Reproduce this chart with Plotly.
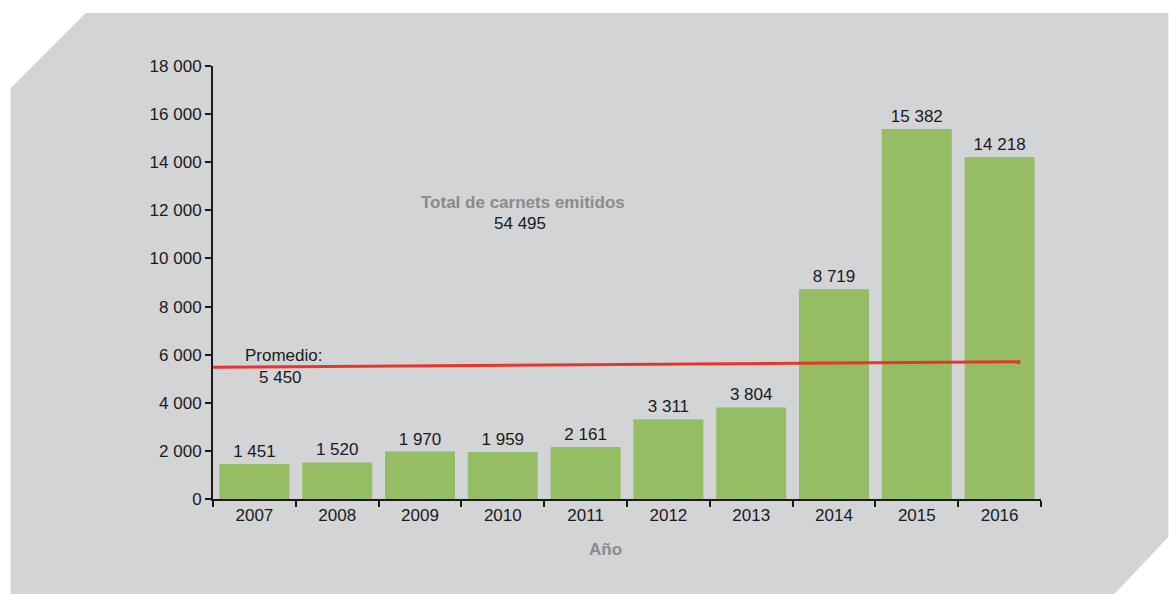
import plotly.graph_objects as go

years = ["2007", "2008", "2009", "2010", "2011", "2012", "2013", "2014", "2015", "2016"]
carnets = [1451, 1520, 1970, 1959, 2161, 3311, 3804, 8719, 15382, 14218]
bar_labels = ["1 451", "1 520", "1 970", "1 959", "2 161", "3 311", "3 804", "8 719", "15 382", "14 218"]
promedio_x = [0, 9.75]
promedio_y = [5480, 5710]
y_tickvals = [0, 2000, 4000, 6000, 8000, 10000, 12000, 14000, 16000, 18000]
y_ticktext = ["0", "2 000", "4 000", "6 000", "8 000", "10 000", "12 000", "14 000", "16 000", "18 000"]

W, H = 1169, 594
L, R, T, B = 212.5, 127.5, 66, 95
FONT = "Liberation Sans Narrow, Arial Narrow, Liberation Sans, Arial, sans-serif"
FS = 17

def px(x):
    return (x - L) / (W - L - R)

def py(y):
    return 1 - (y - T) / (H - T - B)

fig = go.Figure()
fig.add_trace(go.Bar(
    x=years, y=carnets, text=bar_labels, textposition="outside",
    marker=dict(color="#94bd64", line=dict(width=0)),
    textfont=dict(size=FS, color="#1a1a1a", family=FONT),
    cliponaxis=False, width=0.845, hoverinfo="skip",
))
fig.add_trace(go.Scatter(
    x=promedio_x, y=promedio_y, xaxis="x2", mode="lines",
    line=dict(color="#e8352e", width=3), hoverinfo="skip",
))

bg_path = "M {} {} L {} {} L {} {} L {} {} L {} {} L {} {} Z".format(
    px(85), py(13), px(1169), py(13), px(1169), py(537),
    px(1115), py(594), px(10), py(594), px(10), py(88))

def ann(text, x, y, color="#1a1a1a"):
    return dict(text=text, x=px(x), y=py(y), xref="paper", yref="paper",
                xanchor="center", yanchor="middle", showarrow=False,
                font=dict(size=FS, color=color, family=FONT))

fig.update_layout(
    width=W, height=H,
    margin=dict(l=L, r=R, t=T, b=B),
    paper_bgcolor="white", plot_bgcolor="rgba(0,0,0,0)",
    showlegend=False,
    font=dict(family=FONT, size=FS, color="#1a1a1a"),
    shapes=[dict(type="path", xref="paper", yref="paper", path=bg_path,
                 fillcolor="#d3d4d6", line=dict(width=0), layer="below")],
    xaxis=dict(type="category", range=[-0.5, 9.5], showline=True, linecolor="#1a1a1a",
               linewidth=2, ticks="outside", tickson="boundaries", ticklen=6,
               tickcolor="#1a1a1a", tickwidth=2, showgrid=False, zeroline=False,
               tickfont=dict(size=FS, family=FONT, color="#1a1a1a")),
    xaxis2=dict(overlaying="x", range=[0, 10], visible=False),
    yaxis=dict(range=[0, 18000], tickvals=y_tickvals, ticktext=y_ticktext,
               showline=True, linecolor="#1a1a1a", linewidth=2, ticks="outside",
               ticklen=6, tickcolor="#1a1a1a", tickwidth=2, showgrid=False,
               zeroline=False, tickfont=dict(size=FS, family=FONT, color="#1a1a1a")),
    annotations=[
        ann("<b>Total de carnets emitidos</b>", 523, 202, "#8a8b8d"),
        ann("54 495", 520, 224),
        ann("Promedio:", 283, 355),
        ann("5 450", 280, 377),
        ann("<b>Año</b>", 605, 549, "#8a8b8d"),
    ],
)

fig.write_html("out.html", config={"displayModeBar": False},
               post_script="document.body.style.margin='0';document.body.style.overflow='hidden';")
